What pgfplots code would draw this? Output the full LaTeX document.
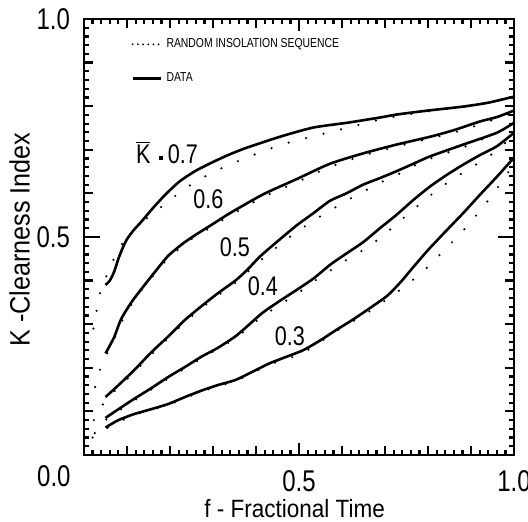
\documentclass[border=0pt]{standalone}
\usepackage{fontspec}
\setmainfont[FakeStretch=0.9]{Liberation Sans}
\newfontfamily\condensed[FakeStretch=0.8]{Liberation Sans}
\usepackage{pgfplots}
\pgfplotsset{compat=1.18}
\pgfplotsset{shortlegend/.style={legend image code/.code={\draw[##1] (0cm,0cm) -- (0.5cm,0cm);}}}
\begin{document}
\begin{tikzpicture}[x=1pt,y=1pt]
\useasboundingbox (-42,-33.5) rectangle (222,227.5);
\begin{axis}[
  at={(0,0)}, anchor=south west,
  width=215pt, height=218pt, scale only axis,
  xmin=0, xmax=1, ymin=0, ymax=1,
  clip=false,
  axis line style={line width=1.4pt},
  xtick={0,0.1,0.2,0.3,0.4,0.5,0.6,0.7,0.8,0.9,1},
  xticklabels={,,,,,0.5,,,,,1.0},
  ytick={0,0.1,0.2,0.3,0.4,0.5,0.6,0.7,0.8,0.9,1},
  yticklabels={,,,,,0.5,,,,,1.0},
  minor tick num=4,
  tick align=inside,
  major tick length=4.5pt, minor tick length=2.5pt,
  every tick/.style={black, line width=1.1pt},
  extra x ticks={0.5}, extra x tick labels={}, extra x tick style={major tick length=6pt},
  extra y ticks={0.5}, extra y tick labels={}, extra y tick style={major tick length=8pt},
  tick label style={font=\condensed\fontsize{15}{15}\selectfont},
  xticklabel style={yshift=-4pt},
  yticklabel style={xshift=-3.5pt},
  xlabel={f - Fractional Time},
  ylabel={K -Clearness Index},
  xlabel style={font=\fontsize{12.5}{12.5}\selectfont, at={(axis description cs:0.49,-0.122)}, anchor=center},
  ylabel style={font=\fontsize{14}{14}\selectfont, at={(axis description cs:-0.15,0.494)}, anchor=center},
  shortlegend,
  legend style={at={(axis description cs:0.095,0.975)}, anchor=north west,
    draw=none, fill=none, font=\condensed\fontsize{6.5}{7}\selectfont, row sep=7pt},
  legend cell align=left,
]
\addlegendimage{line width=1pt, dash pattern=on 0pt off 2.6pt, line cap=round}
\addlegendentry{RANDOM INSOLATION SEQUENCE}
\addlegendimage{line width=1.4pt}
\addlegendentry{DATA}

% ---- solid (data) curves
\addplot[line width=1.3pt, smooth, tension=0.4, forget plot] coordinates {
(0.05,0.39)(0.06,0.40)(0.07,0.42)(0.08,0.45)(0.09,0.475)(0.10,0.495)(0.115,0.515)(0.135,0.537)(0.16,0.566)(0.19,0.598)(0.223,0.628)(0.26,0.652)(0.30,0.672)(0.34,0.69)(0.379,0.705)(0.456,0.730)(0.533,0.751)(0.612,0.762)(0.688,0.774)(0.728,0.781)(0.80,0.79)(0.881,0.799)(0.94,0.808)(1.0,0.822)};
\addplot[line width=1.3pt, smooth, tension=0.4, forget plot] coordinates {
(0.05,0.233)(0.07,0.27)(0.086,0.311)(0.11,0.35)(0.133,0.38)(0.165,0.42)(0.196,0.457)(0.23,0.485)(0.258,0.504)(0.30,0.53)(0.34,0.555)(0.417,0.598)(0.495,0.633)(0.572,0.668)(0.65,0.692)(0.727,0.712)(0.805,0.73)(0.86,0.745)(0.921,0.765)(0.96,0.775)(1.0,0.79)};
\addplot[line width=1.3pt, smooth, tension=0.4, forget plot] coordinates {
(0.05,0.133)(0.08,0.16)(0.117,0.195)(0.156,0.235)(0.196,0.272)(0.235,0.31)(0.274,0.342)(0.31,0.37)(0.352,0.40)(0.38,0.425)(0.409,0.455)(0.45,0.49)(0.495,0.527)(0.534,0.555)(0.572,0.583)(0.61,0.60)(0.649,0.62)(0.688,0.635)(0.727,0.651)(0.766,0.668)(0.805,0.685)(0.882,0.712)(0.96,0.739)(1.0,0.762)};
\addplot[line width=1.3pt, smooth, tension=0.4, forget plot] coordinates {
(0.05,0.085)(0.08,0.105)(0.117,0.129)(0.156,0.153)(0.196,0.179)(0.235,0.202)(0.274,0.226)(0.31,0.245)(0.352,0.272)(0.385,0.30)(0.415,0.326)(0.45,0.35)(0.495,0.379)(0.534,0.405)(0.572,0.436)(0.61,0.462)(0.649,0.488)(0.688,0.52)(0.727,0.551)(0.766,0.585)(0.805,0.616)(0.843,0.642)(0.882,0.666)(0.921,0.688)(0.96,0.708)(1.0,0.739)};
\addplot[line width=1.3pt, smooth, tension=0.4, forget plot] coordinates {
(0.05,0.063)(0.08,0.08)(0.117,0.094)(0.156,0.105)(0.196,0.117)(0.235,0.133)(0.274,0.148)(0.31,0.16)(0.352,0.172)(0.39,0.19)(0.431,0.21)(0.47,0.225)(0.509,0.24)(0.548,0.262)(0.587,0.287)(0.626,0.311)(0.665,0.337)(0.705,0.365)(0.735,0.395)(0.765,0.43)(0.80,0.47)(0.843,0.515)(0.882,0.555)(0.921,0.597)(0.96,0.638)(1.0,0.682)};

% ---- dotted (random insolation sequence) curves
\addplot[line width=1.2pt, dash pattern=on 0pt off 9pt, line cap=round, smooth, tension=0.4, forget plot] coordinates {
(0.022,0.29)(0.03,0.335)(0.037,0.37)(0.048,0.40)(0.06,0.43)(0.08,0.47)(0.10,0.50)(0.13,0.53)(0.172,0.563)(0.207,0.59)(0.235,0.611)(0.267,0.631)(0.307,0.652)(0.356,0.673)(0.407,0.693)(0.467,0.714)(0.537,0.732)(0.619,0.752)(0.70,0.772)(0.80,0.788)(0.90,0.801)(1.0,0.822)};
\addplot[line width=1.2pt, dash pattern=on 0pt off 9pt, line cap=round, smooth, tension=0.4, forget plot] coordinates {
(0.026,0.156)(0.03,0.177)(0.037,0.195)(0.05,0.225)(0.07,0.265)(0.09,0.31)(0.12,0.36)(0.16,0.41)(0.20,0.455)(0.25,0.495)(0.30,0.525)(0.35,0.555)(0.42,0.593)(0.50,0.628)(0.57,0.66)(0.65,0.687)(0.73,0.708)(0.81,0.727)(0.88,0.745)(0.94,0.765)(1.0,0.785)};
\addplot[line width=1.2pt, dash pattern=on 0pt off 9pt, line cap=round, smooth, tension=0.4, forget plot] coordinates {
(0.023,0.08)(0.035,0.10)(0.05,0.125)(0.08,0.155)(0.117,0.19)(0.156,0.23)(0.196,0.268)(0.235,0.305)(0.274,0.337)(0.31,0.365)(0.352,0.395)(0.409,0.445)(0.45,0.478)(0.495,0.512)(0.549,0.547)(0.588,0.57)(0.623,0.59)(0.661,0.61)(0.70,0.63)(0.739,0.648)(0.777,0.668)(0.82,0.685)(0.88,0.705)(0.94,0.73)(1.0,0.76)};
\addplot[line width=1.2pt, dash pattern=on 0pt off 9pt, line cap=round, smooth, tension=0.4, forget plot] coordinates {
(0.025,0.05)(0.035,0.06)(0.05,0.08)(0.117,0.125)(0.196,0.175)(0.274,0.222)(0.352,0.268)(0.415,0.318)(0.495,0.37)(0.545,0.405)(0.576,0.425)(0.61,0.447)(0.649,0.47)(0.692,0.50)(0.727,0.53)(0.766,0.563)(0.805,0.595)(0.843,0.623)(0.882,0.648)(0.921,0.672)(0.96,0.698)(1.0,0.735)};
\addplot[line width=1.2pt, dash pattern=on 0pt off 9pt, line cap=round, smooth, tension=0.4, forget plot] coordinates {
(0.02,0.04)(0.035,0.05)(0.05,0.06)(0.117,0.092)(0.196,0.115)(0.274,0.146)(0.352,0.17)(0.431,0.207)(0.509,0.234)(0.587,0.284)(0.665,0.33)(0.72,0.368)(0.75,0.39)(0.775,0.41)(0.80,0.432)(0.843,0.475)(0.882,0.515)(0.917,0.555)(0.95,0.597)(0.981,0.64)(1.0,0.67)};

% ---- curve labels
\node[font=\condensed\fontsize{13.5}{13.5}\selectfont] at (axis cs:0.193,0.693) {$\overline{\mbox{K}}$\,\,\raisebox{0.25ex}{\rule{2pt}{2pt}}\,0.7};
\node[font=\condensed\fontsize{13.5}{13.5}\selectfont] at (axis cs:0.289,0.587) {0.6};
\node[font=\condensed\fontsize{13.5}{13.5}\selectfont] at (axis cs:0.351,0.476) {0.5};
\node[font=\condensed\fontsize{13.5}{13.5}\selectfont] at (axis cs:0.416,0.386) {0.4};
\node[font=\condensed\fontsize{13.5}{13.5}\selectfont] at (axis cs:0.479,0.273) {0.3};
\node[anchor=north east, inner sep=0pt, font=\condensed\fontsize{15}{15}\selectfont] at (axis cs:0,0) [xshift=-6.5pt, yshift=-5pt] {0.0};
\end{axis}
\end{tikzpicture}
\end{document}
